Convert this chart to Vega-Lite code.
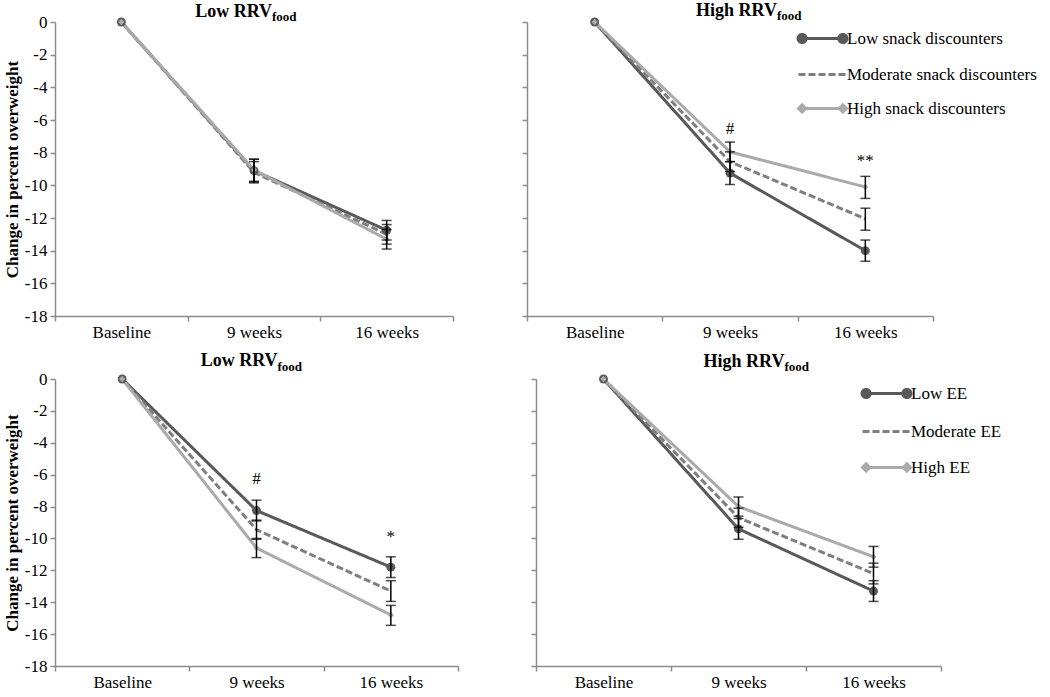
{
  "$schema": "https://vega.github.io/schema/vega-lite/v6.json",
  "padding": {"left": 3, "top": 2, "right": 5, "bottom": 0},
  "background": "white",
  "config": {
    "font": "Liberation Serif",
    "view": {"stroke": null},
    "axis": {"domainColor": "#8c8c8c", "tickColor": "#8c8c8c", "domainWidth": 1.5, "tickWidth": 1.5, "labelColor": "black", "labelFont": "Liberation Serif", "labelFontSize": 17, "titleFont": "Liberation Serif", "titleFontSize": 17, "titleFontWeight": "bold", "titleColor": "black", "grid": false, "tickSize": 5, "labelPadding": 3},
    "legend": {"title": null, "orient": "none", "symbolType": "stroke", "symbolSize": 2300, "symbolStrokeWidth": 3, "labelFont": "Liberation Serif", "labelFontSize": 17, "labelColor": "black", "labelLimit": 400, "labelOffset": -1, "padding": 0}
  },
  "datasets": {
    "series": [
      {"panel": "TL", "time": "Baseline", "level": "Low", "group": "Low snack discounters", "value": 0, "lo": null, "hi": null},
      {"panel": "TL", "time": "Baseline", "level": "Moderate", "group": "Moderate snack discounters", "value": 0, "lo": null, "hi": null},
      {"panel": "TL", "time": "Baseline", "level": "High", "group": "High snack discounters", "value": 0, "lo": null, "hi": null},
      {"panel": "TL", "time": "9 weeks", "level": "Low", "group": "Low snack discounters", "value": -9.1, "lo": -9.8, "hi": -8.4},
      {"panel": "TL", "time": "9 weeks", "level": "Moderate", "group": "Moderate snack discounters", "value": -9.2, "lo": -9.85, "hi": -8.55},
      {"panel": "TL", "time": "9 weeks", "level": "High", "group": "High snack discounters", "value": -9.05, "lo": -9.75, "hi": -8.4},
      {"panel": "TL", "time": "16 weeks", "level": "Low", "group": "Low snack discounters", "value": -12.75, "lo": -13.35, "hi": -12.15},
      {"panel": "TL", "time": "16 weeks", "level": "Moderate", "group": "Moderate snack discounters", "value": -13.0, "lo": -13.6, "hi": -12.4},
      {"panel": "TL", "time": "16 weeks", "level": "High", "group": "High snack discounters", "value": -13.3, "lo": -13.9, "hi": -12.7},

      {"panel": "TR", "time": "Baseline", "level": "Low", "group": "Low snack discounters", "value": 0, "lo": null, "hi": null},
      {"panel": "TR", "time": "Baseline", "level": "Moderate", "group": "Moderate snack discounters", "value": 0, "lo": null, "hi": null},
      {"panel": "TR", "time": "Baseline", "level": "High", "group": "High snack discounters", "value": 0, "lo": null, "hi": null},
      {"panel": "TR", "time": "9 weeks", "level": "Low", "group": "Low snack discounters", "value": -9.25, "lo": -9.95, "hi": -8.55},
      {"panel": "TR", "time": "9 weeks", "level": "Moderate", "group": "Moderate snack discounters", "value": -8.55, "lo": -9.15, "hi": -7.95},
      {"panel": "TR", "time": "9 weeks", "level": "High", "group": "High snack discounters", "value": -7.95, "lo": -8.55, "hi": -7.35},
      {"panel": "TR", "time": "16 weeks", "level": "Low", "group": "Low snack discounters", "value": -14.0, "lo": -14.65, "hi": -13.35},
      {"panel": "TR", "time": "16 weeks", "level": "Moderate", "group": "Moderate snack discounters", "value": -12.05, "lo": -12.75, "hi": -11.4},
      {"panel": "TR", "time": "16 weeks", "level": "High", "group": "High snack discounters", "value": -10.1, "lo": -10.8, "hi": -9.45},

      {"panel": "BL", "time": "Baseline", "level": "Low", "group": "Low EE", "value": 0, "lo": null, "hi": null},
      {"panel": "BL", "time": "Baseline", "level": "Moderate", "group": "Moderate EE", "value": 0, "lo": null, "hi": null},
      {"panel": "BL", "time": "Baseline", "level": "High", "group": "High EE", "value": 0, "lo": null, "hi": null},
      {"panel": "BL", "time": "9 weeks", "level": "Low", "group": "Low EE", "value": -8.25, "lo": -8.9, "hi": -7.6},
      {"panel": "BL", "time": "9 weeks", "level": "Moderate", "group": "Moderate EE", "value": -9.45, "lo": -10.05, "hi": -8.85},
      {"panel": "BL", "time": "9 weeks", "level": "High", "group": "High EE", "value": -10.6, "lo": -11.2, "hi": -10.0},
      {"panel": "BL", "time": "16 weeks", "level": "Low", "group": "Low EE", "value": -11.8, "lo": -12.45, "hi": -11.15},
      {"panel": "BL", "time": "16 weeks", "level": "Moderate", "group": "Moderate EE", "value": -13.3, "lo": -13.95, "hi": -12.65},
      {"panel": "BL", "time": "16 weeks", "level": "High", "group": "High EE", "value": -14.8, "lo": -15.45, "hi": -14.2},

      {"panel": "BR", "time": "Baseline", "level": "Low", "group": "Low EE", "value": 0, "lo": null, "hi": null},
      {"panel": "BR", "time": "Baseline", "level": "Moderate", "group": "Moderate EE", "value": 0, "lo": null, "hi": null},
      {"panel": "BR", "time": "Baseline", "level": "High", "group": "High EE", "value": 0, "lo": null, "hi": null},
      {"panel": "BR", "time": "9 weeks", "level": "Low", "group": "Low EE", "value": -9.4, "lo": -10.05, "hi": -8.75},
      {"panel": "BR", "time": "9 weeks", "level": "Moderate", "group": "Moderate EE", "value": -8.7, "lo": -9.3, "hi": -8.1},
      {"panel": "BR", "time": "9 weeks", "level": "High", "group": "High EE", "value": -8.0, "lo": -8.6, "hi": -7.4},
      {"panel": "BR", "time": "16 weeks", "level": "Low", "group": "Low EE", "value": -13.3, "lo": -13.95, "hi": -12.65},
      {"panel": "BR", "time": "16 weeks", "level": "Moderate", "group": "Moderate EE", "value": -12.2, "lo": -12.85, "hi": -11.55},
      {"panel": "BR", "time": "16 weeks", "level": "High", "group": "High EE", "value": -11.15, "lo": -11.8, "hi": -10.5}
    ],
    "notes": [
      {"panel": "TR", "time": "9 weeks", "value": -6.85, "label": "#"},
      {"panel": "TR", "time": "16 weeks", "value": -8.8, "label": "**"},
      {"panel": "BL", "time": "9 weeks", "value": -6.6, "label": "#"},
      {"panel": "BL", "time": "16 weeks", "value": -10.2, "label": "*"}
    ]
  },
  "spacing": 12,
  "resolve": {"scale": {"color": "independent", "strokeDash": "independent", "shape": "independent", "x": "independent", "y": "independent"}, "legend": {"color": "independent", "strokeDash": "independent", "shape": "independent"}},
  "vconcat": [
    {
      "spacing": 67,
      "resolve": {"scale": {"color": "independent", "strokeDash": "independent", "shape": "independent", "x": "independent", "y": "independent"}, "legend": {"color": "independent", "strokeDash": "independent", "shape": "independent"}},
      "hconcat": [
        {
          "width": 398, "height": 294,
          "data": {"name": "series"},
          "transform": [{"filter": "datum.panel === 'TL'"}],
          "encoding": {
            "x": {"field": "time", "type": "ordinal", "sort": ["Baseline", "9 weeks", "16 weeks"], "scale": {"type": "band", "paddingInner": 0, "paddingOuter": 0}, "axis": {"title": null, "tickBand": "extent", "labelAngle": 0}},
            "y": {"field": "value", "type": "quantitative", "title": "Change in percent overweight", "scale": {"domain": [-18, 0], "nice": false, "zero": false}, "axis": {"values": [0, -2, -4, -6, -8, -10, -12, -14, -16, -18], "labelExpr": "datum.value == 0 ? '0' : '-' + abs(datum.value)", "titlePadding": 3}}
          },
          "layer": [
            {"mark": {"type": "line", "strokeWidth": 3},
             "encoding": {
               "color": {"field": "group", "type": "nominal", "scale": {"domain": ["Low snack discounters", "Moderate snack discounters", "High snack discounters"], "range": ["#595959", "#7f7f7f", "#aaaaaa"]}, "legend": null},
               "strokeDash": {"field": "group", "type": "nominal", "scale": {"domain": ["Low snack discounters", "Moderate snack discounters", "High snack discounters"], "range": [[1, 0], [7, 3], [1, 0]]}, "legend": null}
             }},
            {"transform": [{"filter": "datum.level === 'Low'"}], "mark": {"type": "point", "filled": true, "shape": "circle", "size": 80, "color": "#595959", "opacity": 1}},
            {"transform": [{"filter": "datum.level === 'High'"}], "mark": {"type": "point", "filled": true, "shape": "diamond", "size": 40, "color": "#aaaaaa", "opacity": 1}},
            {"transform": [{"filter": "datum.lo != null"}], "mark": {"type": "errorbar", "color": "black", "thickness": 1.5, "ticks": {"size": 10, "thickness": 1.5}},
             "encoding": {"y": {"field": "lo", "type": "quantitative", "title": "Change in percent overweight"}, "y2": {"field": "hi"}}},
            {"transform": [{"filter": "datum.time === '9 weeks' && datum.level === 'Low'"}], "mark": {"type": "text", "text": "Low RRV", "align": "right", "baseline": "alphabetic", "dx": 18, "dy": -5, "fontSize": 18, "fontWeight": "bold", "color": "black"},
             "encoding": {"y": {"datum": 0}}},
            {"transform": [{"filter": "datum.time === '9 weeks' && datum.level === 'Low'"}], "mark": {"type": "text", "text": "food", "align": "left", "baseline": "alphabetic", "dx": 18, "dy": -1, "fontSize": 13, "fontWeight": "bold", "color": "black"},
             "encoding": {"y": {"datum": 0}}}
          ]
        },
        {
          "width": 406, "height": 294,
          "data": {"name": "series"},
          "transform": [{"filter": "datum.panel === 'TR'"}],
          "encoding": {
            "x": {"field": "time", "type": "ordinal", "sort": ["Baseline", "9 weeks", "16 weeks"], "scale": {"type": "band", "paddingInner": 0, "paddingOuter": 0}, "axis": {"title": null, "tickBand": "extent", "labelAngle": 0}},
            "y": {"field": "value", "type": "quantitative", "title": null, "scale": {"domain": [-18, 0], "nice": false, "zero": false}, "axis": {"values": [0, -2, -4, -6, -8, -10, -12, -14, -16, -18], "labels": false}}
          },
          "layer": [
            {"mark": {"type": "line", "strokeWidth": 3},
             "encoding": {
               "color": {"field": "group", "type": "nominal", "scale": {"domain": ["Low snack discounters", "Moderate snack discounters", "High snack discounters"], "range": ["#595959", "#7f7f7f", "#aaaaaa"]}, "legend": {"legendX": 270, "legendY": -9, "rowPadding": -15}},
               "strokeDash": {"field": "group", "type": "nominal", "scale": {"domain": ["Low snack discounters", "Moderate snack discounters", "High snack discounters"], "range": [[1, 0], [7, 3], [1, 0]]}, "legend": {"legendX": 270, "legendY": -9, "rowPadding": -15}}
             }},
            {"transform": [{"filter": "false"}], "mark": {"type": "point", "filled": true, "opacity": 1},
             "encoding": {
               "color": {"field": "group", "type": "nominal"},
               "shape": {"field": "group", "type": "nominal", "scale": {"domain": ["Low snack discounters", "Moderate snack discounters", "High snack discounters"], "range": ["M-1,0L1,0M-1.02,0A0.17,0.17,0,1,0,-0.68,0A0.17,0.17,0,1,0,-1.02,0ZM0.68,0A0.17,0.17,0,1,0,1.02,0A0.17,0.17,0,1,0,0.68,0Z", "M-1,0L1,0", "M-1,0L1,0M-0.85,-0.15L-0.7,0L-0.85,0.15L-1,0ZM0.85,-0.15L1,0L0.85,0.15L0.7,0Z"]}, "legend": {"legendX": 270, "legendY": -9, "rowPadding": -15}}
             }},
            {"transform": [{"filter": "datum.level === 'Low'"}], "mark": {"type": "point", "filled": true, "shape": "circle", "size": 80, "color": "#595959", "opacity": 1}},
            {"transform": [{"filter": "datum.level === 'High'"}], "mark": {"type": "point", "filled": true, "shape": "diamond", "size": 40, "color": "#aaaaaa", "opacity": 1}},
            {"transform": [{"filter": "datum.lo != null"}], "mark": {"type": "errorbar", "color": "black", "thickness": 1.5, "ticks": {"size": 10, "thickness": 1.5}},
             "encoding": {"y": {"field": "lo", "type": "quantitative", "title": null}, "y2": {"field": "hi"}}},
            {"data": {"name": "notes"}, "transform": [{"filter": "datum.panel === 'TR'"}], "mark": {"type": "text", "fontSize": 17, "baseline": "alphabetic", "color": "black"},
             "encoding": {"text": {"field": "label"}}},
            {"transform": [{"filter": "datum.time === '9 weeks' && datum.level === 'Low'"}], "mark": {"type": "text", "text": "High RRV", "align": "right", "baseline": "alphabetic", "dx": 47, "dy": -6, "fontSize": 18, "fontWeight": "bold", "color": "black"},
             "encoding": {"y": {"datum": 0}}},
            {"transform": [{"filter": "datum.time === '9 weeks' && datum.level === 'Low'"}], "mark": {"type": "text", "text": "food", "align": "left", "baseline": "alphabetic", "dx": 47, "dy": -2, "fontSize": 13, "fontWeight": "bold", "color": "black"},
             "encoding": {"y": {"datum": 0}}}
          ]
        }
      ]
    },
    {
      "spacing": 71,
      "resolve": {"scale": {"color": "independent", "strokeDash": "independent", "shape": "independent", "x": "independent", "y": "independent"}, "legend": {"color": "independent", "strokeDash": "independent", "shape": "independent"}},
      "hconcat": [
        {
          "width": 403, "height": 287,
          "data": {"name": "series"},
          "transform": [{"filter": "datum.panel === 'BL'"}],
          "encoding": {
            "x": {"field": "time", "type": "ordinal", "sort": ["Baseline", "9 weeks", "16 weeks"], "scale": {"type": "band", "paddingInner": 0, "paddingOuter": 0}, "axis": {"title": null, "tickBand": "extent", "labelAngle": 0}},
            "y": {"field": "value", "type": "quantitative", "title": "Change in percent overweight", "scale": {"domain": [-18, 0], "nice": false, "zero": false}, "axis": {"values": [0, -2, -4, -6, -8, -10, -12, -14, -16, -18], "labelExpr": "datum.value == 0 ? '0' : '-' + abs(datum.value)", "titlePadding": 3}}
          },
          "layer": [
            {"mark": {"type": "line", "strokeWidth": 3},
             "encoding": {
               "color": {"field": "group", "type": "nominal", "scale": {"domain": ["Low EE", "Moderate EE", "High EE"], "range": ["#595959", "#7f7f7f", "#aaaaaa"]}, "legend": null},
               "strokeDash": {"field": "group", "type": "nominal", "scale": {"domain": ["Low EE", "Moderate EE", "High EE"], "range": [[1, 0], [7, 3], [1, 0]]}, "legend": null}
             }},
            {"transform": [{"filter": "datum.level === 'Low'"}], "mark": {"type": "point", "filled": true, "shape": "circle", "size": 80, "color": "#595959", "opacity": 1}},
            {"transform": [{"filter": "datum.level === 'High'"}], "mark": {"type": "point", "filled": true, "shape": "diamond", "size": 40, "color": "#aaaaaa", "opacity": 1}},
            {"transform": [{"filter": "datum.lo != null"}], "mark": {"type": "errorbar", "color": "black", "thickness": 1.5, "ticks": {"size": 10, "thickness": 1.5}},
             "encoding": {"y": {"field": "lo", "type": "quantitative", "title": "Change in percent overweight"}, "y2": {"field": "hi"}}},
            {"data": {"name": "notes"}, "transform": [{"filter": "datum.panel === 'BL'"}], "mark": {"type": "text", "fontSize": 17, "baseline": "alphabetic", "color": "black"},
             "encoding": {"text": {"field": "label"}}},
            {"transform": [{"filter": "datum.time === '9 weeks' && datum.level === 'Low'"}], "mark": {"type": "text", "text": "Low RRV", "align": "right", "baseline": "alphabetic", "dx": 21, "dy": -13, "fontSize": 18, "fontWeight": "bold", "color": "black"},
             "encoding": {"y": {"datum": 0}}},
            {"transform": [{"filter": "datum.time === '9 weeks' && datum.level === 'Low'"}], "mark": {"type": "text", "text": "food", "align": "left", "baseline": "alphabetic", "dx": 21, "dy": -8, "fontSize": 13, "fontWeight": "bold", "color": "black"},
             "encoding": {"y": {"datum": 0}}}
          ]
        },
        {
          "width": 405, "height": 287,
          "data": {"name": "series"},
          "transform": [{"filter": "datum.panel === 'BR'"}],
          "encoding": {
            "x": {"field": "time", "type": "ordinal", "sort": ["Baseline", "9 weeks", "16 weeks"], "scale": {"type": "band", "paddingInner": 0, "paddingOuter": 0}, "axis": {"title": null, "tickBand": "extent", "labelAngle": 0}},
            "y": {"field": "value", "type": "quantitative", "title": null, "scale": {"domain": [-18, 0], "nice": false, "zero": false}, "axis": {"values": [0, -2, -4, -6, -8, -10, -12, -14, -16, -18], "labels": false}}
          },
          "layer": [
            {"mark": {"type": "line", "strokeWidth": 3},
             "encoding": {
               "color": {"field": "group", "type": "nominal", "scale": {"domain": ["Low EE", "Moderate EE", "High EE"], "range": ["#595959", "#7f7f7f", "#aaaaaa"]}, "legend": {"legendX": 325, "legendY": -11, "rowPadding": 2}},
               "strokeDash": {"field": "group", "type": "nominal", "scale": {"domain": ["Low EE", "Moderate EE", "High EE"], "range": [[1, 0], [7, 3], [1, 0]]}, "legend": {"legendX": 325, "legendY": -11, "rowPadding": 2}}
             }},
            {"transform": [{"filter": "false"}], "mark": {"type": "point", "filled": true, "opacity": 1},
             "encoding": {
               "color": {"field": "group", "type": "nominal"},
               "shape": {"field": "group", "type": "nominal", "scale": {"domain": ["Low EE", "Moderate EE", "High EE"], "range": ["M-1,0L1,0M-1.02,0A0.17,0.17,0,1,0,-0.68,0A0.17,0.17,0,1,0,-1.02,0ZM0.68,0A0.17,0.17,0,1,0,1.02,0A0.17,0.17,0,1,0,0.68,0Z", "M-1,0L1,0", "M-1,0L1,0M-0.85,-0.15L-0.7,0L-0.85,0.15L-1,0ZM0.85,-0.15L1,0L0.85,0.15L0.7,0Z"]}, "legend": {"legendX": 325, "legendY": -11, "rowPadding": 2}}
             }},
            {"transform": [{"filter": "datum.level === 'Low'"}], "mark": {"type": "point", "filled": true, "shape": "circle", "size": 80, "color": "#595959", "opacity": 1}},
            {"transform": [{"filter": "datum.level === 'High'"}], "mark": {"type": "point", "filled": true, "shape": "diamond", "size": 40, "color": "#aaaaaa", "opacity": 1}},
            {"transform": [{"filter": "datum.lo != null"}], "mark": {"type": "errorbar", "color": "black", "thickness": 1.5, "ticks": {"size": 10, "thickness": 1.5}},
             "encoding": {"y": {"field": "lo", "type": "quantitative", "title": null}, "y2": {"field": "hi"}}},
            {"transform": [{"filter": "datum.time === '9 weeks' && datum.level === 'Low'"}], "mark": {"type": "text", "text": "High RRV", "align": "right", "baseline": "alphabetic", "dx": 46, "dy": -12, "fontSize": 18, "fontWeight": "bold", "color": "black"},
             "encoding": {"y": {"datum": 0}}},
            {"transform": [{"filter": "datum.time === '9 weeks' && datum.level === 'Low'"}], "mark": {"type": "text", "text": "food", "align": "left", "baseline": "alphabetic", "dx": 46, "dy": -8, "fontSize": 13, "fontWeight": "bold", "color": "black"},
             "encoding": {"y": {"datum": 0}}}
          ]
        }
      ]
    }
  ]
}
